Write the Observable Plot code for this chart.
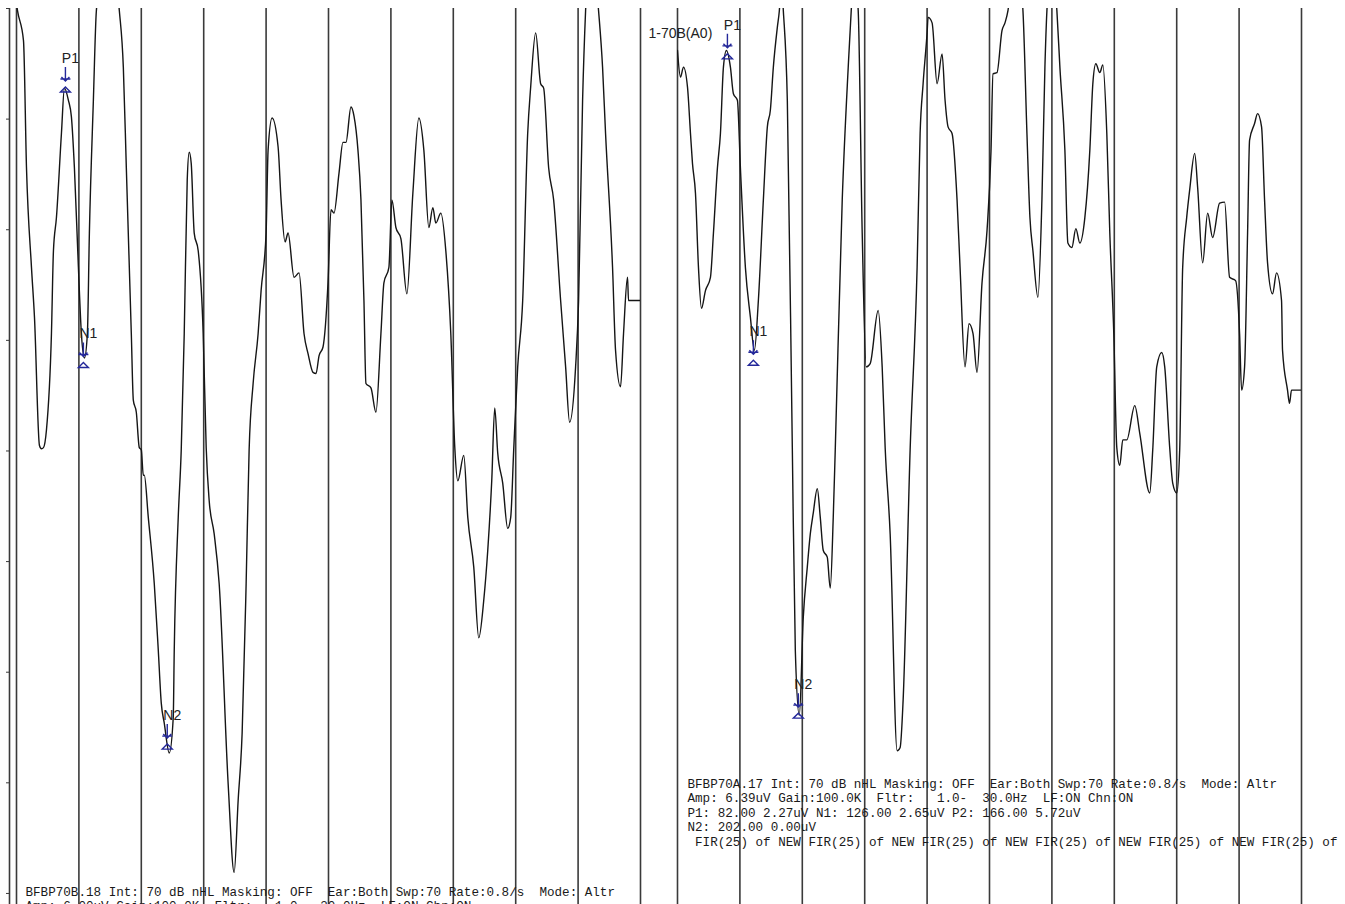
<!DOCTYPE html>
<html>
<head>
<meta charset="utf-8">
<script src="https://cdn.jsdelivr.net/npm/d3@7"></script>
<script src="https://cdn.jsdelivr.net/npm/@observablehq/plot@0.6"></script>
<style>
  html, body { margin: 0; padding: 0; background: #ffffff; }
  #chart svg { display: block; background: #ffffff; }
  #chart svg text, #chart svg tspan { white-space: pre; }
</style>
</head>
<body>
<div id="chart"></div>
<script>
// ---- data (time in ms, amplitude in µV) ----
const panels = ["L", "R"];
const timeTicks = [0, 100, 200, 300, 400, 500, 600, 700, 800, 900, 1000];
const ampTicks = [3, 2, 1, 0, -1, -2, -3, -4, -5];

const leftTrace = [
  [0, 3.04], [1.6, 2.98], [11.2, 2.71], [16, 1.56], [24, 0.66], [28.8, 0.21], [36.8, -0.95],
  [40, -0.98], [43.2, -0.97], [48, -0.81], [56, 0.06], [59.2, 0.81], [64, 1.11], [72, 1.87],
  [76.8, 2.28], [83.2, 2.17], [88, 2.02], [92.8, 1.56], [99.2, 0.66], [104, 0.06], [108.8, -0.16],
  [113.6, 0.06], [116.8, 0.97], [123.2, 2.17], [128, 2.98], [145.6, 3.62], [164.8, 2.98],
  [171.2, 2.47], [176, 1.56], [184, 0.06], [187.2, -0.54], [192, -0.65], [196.8, -0.97],
  [200, -0.99], [203.2, -1.22], [204.8, -1.22], [211.2, -1.60], [220.8, -2.20], [227.2, -2.80],
  [232, -3.28], [236.8, -3.46], [244.8, -3.73], [251.2, -3.41], [252.8, -2.80], [259.2, -1.60],
  [264, -0.99], [268.8, 0.06], [273.6, 1.45], [276.8, 1.70], [280, 1.60], [284.8, 0.97],
  [291.2, 0.81], [299.2, 0.06], [304, -0.97], [308.8, -1.45], [316.8, -1.75], [324.8, -2.20],
  [339.2, -4.01], [348.8, -4.81], [355.2, -4.16], [361.6, -3.55], [368, -2.20], [372.8, -0.99],
  [379.2, -0.39], [387.2, 0.06], [392, 0.45], [400, 0.97], [403.2, 1.72], [409.6, 2.01],
  [419.2, 1.75], [424, 1.27], [430.4, 0.89], [435.2, 0.97], [444.8, 0.57], [452.8, 0.61],
  [460.8, 0.06], [467.2, -0.12], [475.2, -0.29], [480, -0.30], [484.8, -0.14], [491.2, -0.06],
  [499.2, 0.52], [504, 1.18], [508.8, 1.15], [516.8, 1.51], [523.2, 1.79], [528, 1.79],
  [536, 2.11], [540.8, 2.03], [547.2, 1.72], [552, 1.27], [556.8, 0.36], [560, -0.39],
  [568, -0.43], [576, -0.65], [584, 0.06], [588.8, 0.52], [596.8, 0.66], [601.6, 1.27],
  [608, 1.02], [616, 0.92], [625.6, 0.42], [635.2, 1.33], [644.8, 2.01], [652.8, 1.72],
  [660.8, 1.02], [667.2, 1.20], [672, 1.06], [680, 1.15], [688, 0.81], [696, 0.06],
  [702.4, -0.97], [707.2, -1.27], [716.8, -1.04], [723.2, -1.60], [732.8, -2.05], [740.8, -2.69],
  [748.8, -2.35], [755.2, -1.90], [761.6, -1.27], [766.4, -0.61], [771.2, -1.02], [779.2, -1.29],
  [787.2, -1.70], [792, -1.60], [796.8, -0.99], [803.2, -0.24], [811.2, 0.36], [819.2, 1.87],
  [824, 2.29], [832, 2.78], [840, 2.32], [844.8, 2.28], [852.8, 1.56], [860.8, 1.27],
  [872, 0.36], [880, -0.24], [886.4, -0.74], [896, -0.24], [900.8, 0.36], [907.2, 2.17],
  [912, 2.98], [921.6, 3.62], [932.8, 2.98], [939.2, 2.47], [944, 1.87], [955.2, 0.66],
  [960, -0.09], [968, -0.42], [972.8, 0.06], [979.2, 0.57], [980.8, 0.36], [1003.2, 0.36]
];

const rightTrace = [
  [0, 2.62], [4.8, 2.38], [9.6, 2.47], [16, 2.29], [20.8, 1.87], [24, 1.60], [28.8, 1.33],
  [33.6, 0.66], [38.4, 0.29], [44.8, 0.45], [52.8, 0.57], [57.6, 0.97], [64, 1.56], [68.8, 1.87],
  [73.6, 2.47], [78.4, 2.62], [84.8, 2.47], [89.6, 2.23], [96, 2.17], [100.8, 1.56],
  [108.8, 0.66], [116.8, 0.21], [123.2, -0.09], [129.6, 0.36], [137.6, 1.27], [144, 1.93],
  [148.8, 2.08], [153.6, 2.47], [160, 2.83], [163.2, 2.98], [166.4, 3.25], [169.6, 2.98],
  [176, 2.17], [184, -0.97], [188.8, -2.80], [195.2, -3.39], [201.6, -2.50], [208, -2.05],
  [212.8, -1.75], [217.6, -1.56], [224, -1.34], [228.8, -1.60], [233.6, -1.90], [240, -1.96],
  [244.8, -2.24], [249.6, -1.60], [252.8, -0.99], [264, 1.27], [273.6, 2.47], [278.4, 2.98],
  [283.2, 3.35], [289.6, 2.98], [296, 0.97], [302.4, -0.24], [308.8, -0.21], [321.6, 0.27],
  [328, -0.24], [332.8, -0.97], [340.8, -1.75], [352, -3.71], [356.8, -3.68], [361.6, -3.25],
  [372.8, -0.99], [384, 0.66], [388.8, 1.87], [393.6, 2.32], [400, 2.78], [401.6, 2.92],
  [408, 2.87], [416, 2.32], [424, 2.59], [428.8, 2.17], [433.6, 1.93], [440, 1.87],
  [448, 1.27], [452.8, 0.66], [460.8, -0.24], [467.2, 0.15], [473.6, 0.06], [480, -0.29],
  [488, 0.52], [496, 0.99], [502.4, 1.71], [505.6, 2.41], [512, 2.42], [520, 2.80],
  [524.8, 2.87], [529.6, 2.98], [540.8, 3.62], [553.6, 2.98], [560, 1.87], [564.8, 1.11],
  [569.6, 0.81], [577.6, 0.39], [584, 1.27], [588.8, 2.47], [592, 2.98], [600, 3.44],
  [608, 2.98], [612.8, 2.47], [620.8, 1.72], [625.6, 0.88], [632, 0.84], [638.4, 1.01],
  [644.8, 0.88], [652.8, 1.11], [660.8, 1.72], [665.6, 2.32], [670.4, 2.50], [676.8, 2.42],
  [681.6, 2.49], [688, 1.87], [692.8, 0.97], [699.2, 0.06], [704, -0.97], [708.8, -1.13],
  [713.6, -0.90], [720, -0.90], [732.8, -0.59], [740.8, -0.84], [756.8, -1.38], [761.6, -0.99],
  [768, -0.24], [776, -0.11], [780.8, -0.24], [788.8, -0.97], [793.6, -1.29], [800, -1.38],
  [804.8, -0.99], [809.6, 0.66], [816, 1.11], [820.8, 1.36], [828.8, 1.69], [833.6, 1.38],
  [841.6, 0.70], [849.6, 1.15], [857.6, 0.93], [868.8, 1.24], [876.8, 1.25], [884.8, 0.57],
  [894.4, 0.54], [900.8, 0.06], [904, -0.45], [908.8, -0.24], [913.6, 0.97], [916.8, 1.81],
  [924.8, 1.96], [929.6, 2.05], [936, 1.93], [940.8, 1.27], [945.6, 0.70], [953.6, 0.42],
  [960, 0.61], [968, 0.36], [969.6, -0.09], [977.6, -0.45], [980.8, -0.57], [984, -0.45],
  [1004.8, -0.45]
];

const markerPanel = ["L", "L", "L", "R", "R", "R"];
const markerName = ["P1", "N1", "N2", "P1", "N1", "N2"];
const markerTime = [78.4, 107.2, 241.6, 80, 121.6, 193.6];
const markerAmp = [2.29, -0.20, -3.65, 2.59, -0.18, -3.37];

const channelLabel = "1-70B(A0)";

const leftInfo = [
  "BFBP70B.18 Int: 70 dB nHL Masking: OFF  Ear:Both Swp:70 Rate:0.8/s  Mode: Altr",
  "Amp: 6.00uV Gain:100.0K  Fltr:   1.0-  30.0Hz  LF:ON Chn:ON"
];
const rightInfo = [
  "BFBP70A.17 Int: 70 dB nHL Masking: OFF  Ear:Both Swp:70 Rate:0.8/s  Mode: Altr",
  "Amp: 6.39uV Gain:100.0K  Fltr:   1.0-  30.0Hz  LF:ON Chn:ON",
  "P1: 82.00 2.27uV N1: 126.00 2.65uV P2: 166.00 5.72uV",
  "N2: 202.00 0.00uV",
  " FIR(25) of NEW FIR(25) of NEW FIR(25) of NEW FIR(25) of NEW FIR(25) of NEW FIR(25) of"
];

// ---- tables built from the arrays ----
const traces = [
  ...leftTrace.map(([t, v]) => ({panel: "L", t, v})),
  ...rightTrace.map(([t, v]) => ({panel: "R", t, v}))
];
const markers = markerName.map((name, i) => ({
  panel: markerPanel[i], name, t: markerTime[i], v: markerAmp[i]
}));
const infoBlocks = [
  {panel: "L", text: leftInfo.join("\n")},
  {panel: "R", text: rightInfo.join("\n")}
];

// Peak marker glyph: down arrow with a cross-bar, and an open triangle under it
const peakMarker = {
  draw(ctx) {
    ctx.moveTo(0, -20); ctx.lineTo(0, -6);
    ctx.moveTo(-4, -10); ctx.lineTo(0, -6); ctx.lineTo(4, -10);
    ctx.moveTo(-5, -8); ctx.lineTo(5, -8);
    ctx.moveTo(0, 0); ctx.lineTo(5, 5); ctx.lineTo(-5, 5); ctx.closePath();
  }
};

const sans = "'Liberation Sans', Arial, sans-serif";
const mono = "'Courier New', 'Liberation Mono', monospace";

const chart = Plot.plot({
  width: 1345,
  height: 904,
  marginTop: 8,
  marginLeft: 15,
  marginRight: 43,
  marginBottom: 0,
  style: {background: "#ffffff"},
  fx: {domain: panels, paddingInner: 0.05589, paddingOuter: 0, axis: null, label: null},
  x: {domain: [0, 1000], axis: null},
  y: {domain: [-5.1, 3]},
  marks: [
    Plot.ruleX(timeTicks, {stroke: "#3a3a3a", strokeWidth: 1.6}),
    Plot.ruleX([{panel: "L", t: 0}], {fx: "panel", x: "t", dx: -7, stroke: "#3a3a3a", strokeWidth: 1.6}),
    Plot.axisY({ticks: ampTicks, tickSize: 3, dx: -7, tickFormat: () => "", label: null, stroke: "#3a3a3a"}),
    Plot.line(traces, {fx: "panel", x: "t", y: "v", stroke: "#151515", strokeWidth: 1.4,
      curve: "monotone-x", clip: true}),
    Plot.dot(markers, {fx: "panel", x: "t", y: "v", symbol: peakMarker, stroke: "#24289a", fill: "none", strokeWidth: 1.4}),
    Plot.text(markers, {fx: "panel", x: "t", y: "v", text: "name", dx: 5, dy: -24, lineAnchor: "bottom",
      fontSize: 14, fontFamily: sans, fill: "#222"}),
    Plot.text([{panel: "R", text: channelLabel}], {fx: "panel", text: "text", frameAnchor: "top-left",
      textAnchor: "start", lineAnchor: "bottom", dx: -29, dy: 29, fontSize: 14, fontFamily: sans, fill: "#222"}),
    Plot.text(infoBlocks.filter(d => d.panel === "R"), {fx: "panel", text: "text", frameAnchor: "top-left",
      textAnchor: "start", lineAnchor: "top", dx: 10, dy: 769, fontSize: 12.6, lineHeight: 1.15,
      fontFamily: mono, fill: "#1a1a1a"}),
    Plot.text(infoBlocks.filter(d => d.panel === "L"), {fx: "panel", text: "text", frameAnchor: "top-left",
      textAnchor: "start", lineAnchor: "top", dx: 9, dy: 877, fontSize: 12.6, lineHeight: 1.15,
      fontFamily: mono, fill: "#1a1a1a"})
  ]
});

document.getElementById("chart").appendChild(chart);
</script>
</body>
</html>
